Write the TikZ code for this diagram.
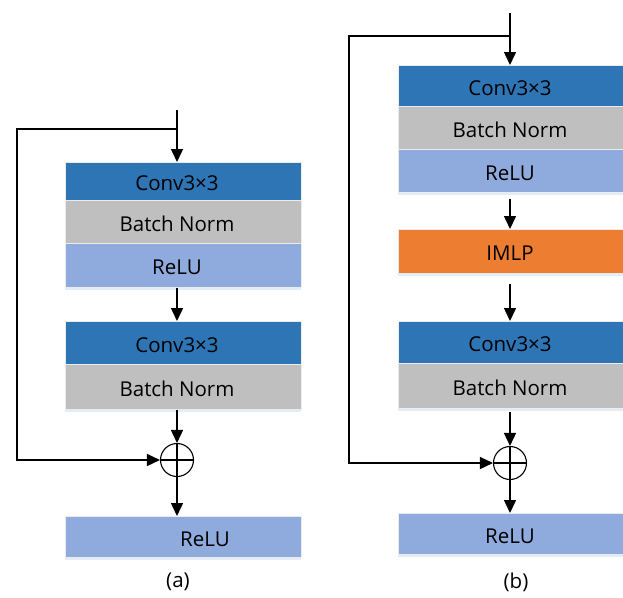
\documentclass[tikz,border=0pt]{standalone}
\usepackage{fontspec}
\setmainfont{Open Sans}
\usetikzlibrary{arrows.meta,shadows}
\definecolor{convc}{HTML}{2E75B6}
\definecolor{bnc}{HTML}{BFBFBF}
\definecolor{reluc}{HTML}{8FAADC}
\definecolor{imlpc}{HTML}{ED7D31}
\definecolor{shc}{HTML}{DCE8F6}
\begin{document}
\begin{tikzpicture}[x=1pt,y=-1pt,
  every node/.style={font=\fontsize{20.5}{24}\selectfont},
  every label/.style={font=\fontsize{20.5}{24}\selectfont},
  ln/.style={line width=1.5pt},
  arr/.style={line width=1.5pt,-{Triangle[length=13pt,width=12pt]}},
  blk/.style={rectangle,anchor=north,inner sep=0pt,draw=white!92!black,line width=0.6pt,
    drop shadow={shadow xshift=0pt,shadow yshift=-2.5pt,fill=shc,opacity=0.8}},
  wa/.style={minimum width=236pt},
  wb/.style={minimum width=226pt},
  plus/.style={circle,draw,line width=1.1pt,minimum size=33pt,inner sep=0pt,fill=white,
    path picture={\draw[line width=1.1pt] (path picture bounding box.north) -- (path picture bounding box.south)
      (path picture bounding box.west) -- (path picture bounding box.east);}}
]
\useasboundingbox (0,0) rectangle (623,597);

% ---------- (a) ----------
\node[blk,wa,fill=convc,minimum height=38pt,label={[xshift=-6pt,yshift=-2pt]center:Conv3×3}] (c1a) at (183,162) {};
\node[blk,wa,fill=bnc,minimum height=43pt,label={[xshift=-6pt,yshift=-2pt]center:Batch Norm}] (b1a) at (183,200) {};
\node[blk,wa,fill=reluc,minimum height=44pt,label={[xshift=-6pt,yshift=-2pt]center:ReLU}] (r1a) at (183,243) {};
\node[blk,wa,fill=convc,minimum height=43pt,label={[xshift=-6pt,yshift=-2pt]center:Conv3×3}] (c2a) at (183,321) {};
\node[blk,wa,fill=bnc,minimum height=45pt,label={[xshift=-6pt,yshift=-2pt]center:Batch Norm}] (b2a) at (183,364) {};
\node[blk,wa,fill=reluc,minimum height=41pt,label={[xshift=22pt,yshift=-2pt]center:ReLU}] (r3a) at (183,516) {};
\node[plus] (pa) at (177,460) {};
\coordinate (ina) at (177,110);
\coordinate (sa) at (177,129);
\coordinate (la) at (17,129);
\node (capa) at (178,582) {(a)};

\draw[arr] (ina) -- (ina |- c1a.north);
\draw[arr] (r1a.south -| ina) -- (c2a.north -| ina);
\draw[arr] (b2a.south -| ina) -- (pa.north);
\draw[arr] (pa.north) -- (r3a.north -| pa);
\draw[arr] (sa) -- (la) -- (la |- pa) -- (pa.west);

% ---------- (b) ----------
\node[blk,wb,fill=convc,minimum height=41pt,label={[xshift=-1pt,yshift=-2pt]center:Conv3×3}] (c1b) at (511,65) {};
\node[blk,wb,fill=bnc,minimum height=43pt,label={[xshift=-1pt,yshift=-2pt]center:Batch Norm}] (b1b) at (511,106) {};
\node[blk,wb,fill=reluc,minimum height=43pt,label={[xshift=-1pt,yshift=-2pt]center:ReLU}] (r1b) at (511,149) {};
\node[blk,wb,fill=imlpc,minimum height=44pt,label={[xshift=-1pt,yshift=-2pt]center:IMLP}] (mb) at (511,229) {};
\node[blk,wb,fill=convc,minimum height=42pt,label={[xshift=-1pt,yshift=-2pt]center:Conv3×3}] (c2b) at (511,321) {};
\node[blk,wb,fill=bnc,minimum height=45pt,label={[xshift=-1pt,yshift=-2pt]center:Batch Norm}] (b2b) at (511,363) {};
\node[blk,wb,fill=reluc,minimum height=41pt,label={[xshift=-1pt,yshift=-2pt]center:ReLU}] (r3b) at (511,513) {};
\node[plus] (pb) at (510,463) {};
\coordinate (inb) at (510,13);
\coordinate (sb) at (510,36);
\coordinate (lb) at (349,36);
\node (capb) at (516,582) {(b)};

\draw[arr] (inb) -- (inb |- c1b.north);
\draw[arr,shorten <=6pt] (r1b.south -| inb) -- (mb.north -| inb);
\draw[arr,shorten <=10pt] (mb.south -| inb) -- (c2b.north -| inb);
\draw[arr,shorten <=3pt] (b2b.south -| inb) -- (pb.north);
\draw[arr] (pb.north) -- (r3b.north -| pb);
\draw[arr] (sb) -- (lb) -- (lb |- pb) -- (pb.west);
\end{tikzpicture}
\end{document}
